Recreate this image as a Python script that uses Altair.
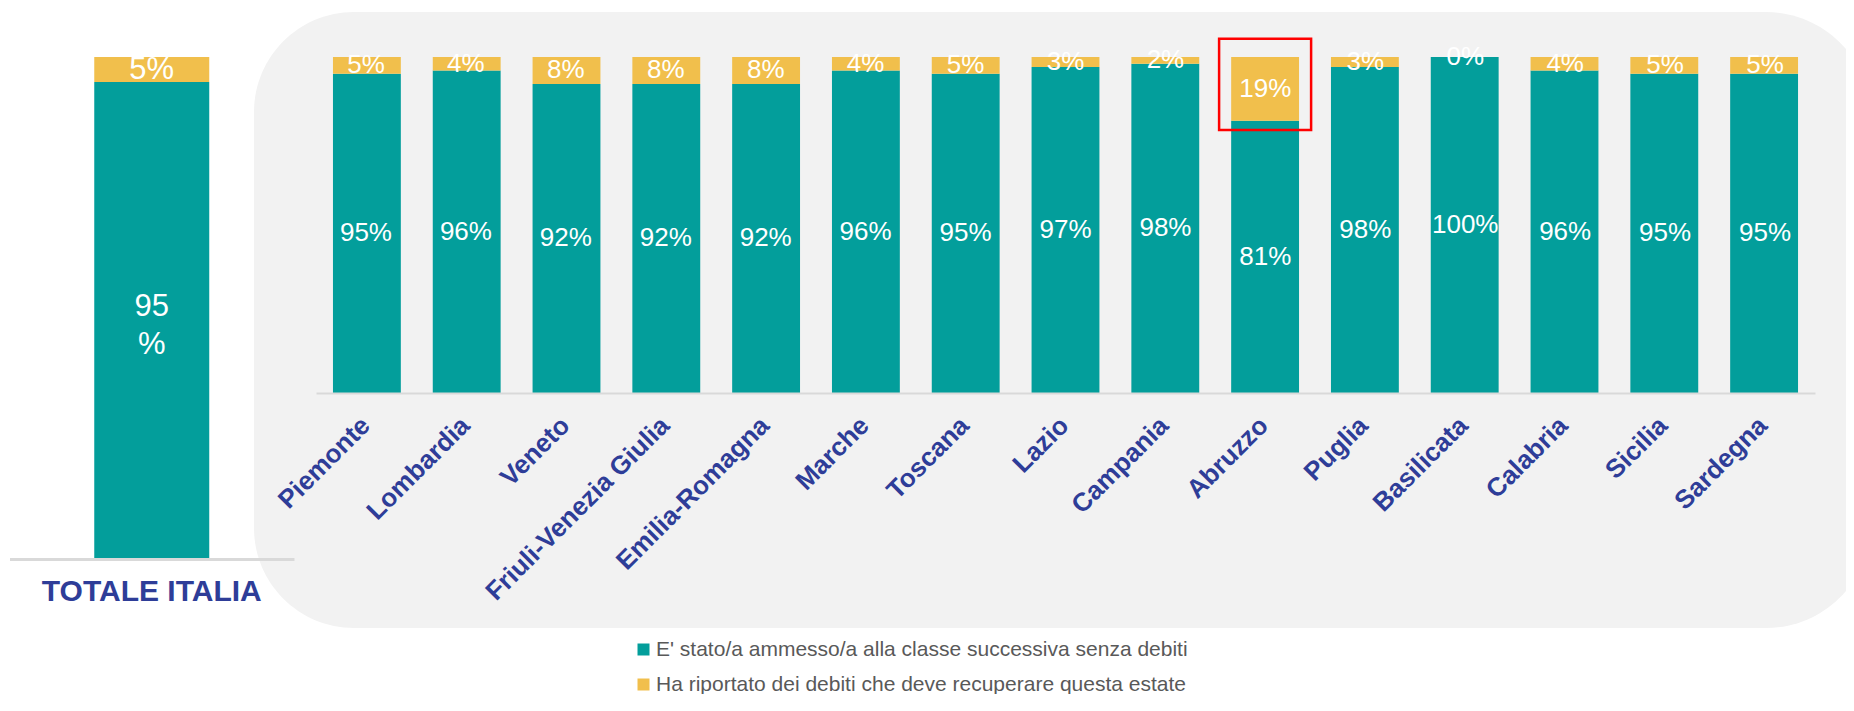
import altair as alt
import pandas as pd

# ---------------- data ----------------
regions = ["Piemonte", "Lombardia", "Veneto", "Friuli-Venezia Giulia", "Emilia-Romagna",
           "Marche", "Toscana", "Lazio", "Campania", "Abruzzo", "Puglia", "Basilicata",
           "Calabria", "Sicilia", "Sardegna"]
promoted = [95, 96, 92, 92, 92, 96, 95, 97, 98, 81, 98, 100, 96, 95, 95]
with_debts = [5, 4, 8, 8, 8, 4, 5, 3, 2, 19, 3, 0, 4, 5, 5]

total_category = "TOTALE ITALIA"
total_values = [95, 5]
total_texts = ["95\n%", "5%"]

series = ["E' stato/a ammesso/a alla classe successiva senza debiti",
          "Ha riportato dei debiti che deve recuperare questa estate"]
colors = ["#039e9b", "#f1bf4c"]

highlight_region = ["Abruzzo"]
highlight_top = [1.054]
highlight_bottom = [0.783]

# ---------------- tables ----------------
rows = []
for r, p, d in zip(regions, promoted, with_debts):
    rows.append({"region": r, "series": series[0], "ord": 0, "value": p})
    rows.append({"region": r, "series": series[1], "ord": 1, "value": d})
df_reg = pd.DataFrame(rows)

df_tot = pd.DataFrame({"region": [total_category] * 2, "series": series, "ord": [0, 1],
                       "value": total_values, "txt": total_texts})
df_hl = pd.DataFrame({"region": highlight_region, "top": highlight_top, "bottom": highlight_bottom})

BLUE = "#2e3d98"
W, H = 1837, 502

xr = alt.Scale(domain=regions, range=[307, 1806], paddingInner=0.32, paddingOuter=0.17)
yr = alt.Scale(domain=[0, 1], range=[336, 0])
xl = alt.Scale(domain=[total_category], range=[0.5, 285])
yl = alt.Scale(domain=[0, 1], range=[502, 0])

legend = alt.Legend(orient="none", legendX=624, legendY=582, direction="vertical", title=None,
                    labelFont="Liberation Sans", labelFontSize=21, labelColor="#595959",
                    symbolType="square", symbolSize=144, symbolStrokeWidth=0, labelOffset=2,
                    rowPadding=13, labelLimit=1000, padding=0)
color = alt.Color("series:N", scale=alt.Scale(domain=series, range=colors), legend=legend)


def segs(ch):
    return (ch.transform_joinaggregate(total="sum(value)", groupby=["region"])
              .transform_window(cum="sum(value)", sort=[alt.SortField("ord")],
                                groupby=["region"], frame=[None, 0])
              .transform_calculate(y1="datum.cum / datum.total",
                                   y0="(datum.cum - datum.value) / datum.total",
                                   ymid="(datum.cum - datum.value / 2) / datum.total"))


bg = alt.Chart(alt.Data(values=[{}])).mark_rect(
    color="#f2f2f2", cornerRadiusTopLeft=100, cornerRadiusBottomLeft=100,
    cornerRadiusTopRight=105, cornerRadiusBottomRight=105
).encode(x=alt.value(245), x2=alt.value(W + 25), y=alt.value(-45), y2=alt.value(571))

# left panel
left_bars = segs(alt.Chart(df_tot)).mark_bar(size=115).encode(
    x=alt.X("region:N", scale=xl, title=None,
            axis=alt.Axis(orient="bottom", labelAngle=0, labelFont="Liberation Sans",
                          labelFontSize=30, labelFontWeight="bold", labelColor=BLUE,
                          domainColor="#d9d9d9", domainWidth=3, ticks=False, labelPadding=17,
                          labelLimit=400, zindex=1, labelAlign="center", labelBaseline="top")),
    y=alt.Y("y1:Q", scale=yl, axis=None), y2="y0:Q", color=color)

left_text_main = segs(alt.Chart(df_tot)).transform_filter("datum.ord == 0").mark_text(
    font="Liberation Sans", fontSize=31, color="white", baseline="middle", align="center",
    lineBreak="\n", lineHeight=38, dy=-14
).encode(x=alt.X("region:N", scale=xl, axis=None), y=alt.Y("ymid:Q", scale=yl, axis=None),
         text="txt:N")

left_text_top = segs(alt.Chart(df_tot)).transform_filter("datum.ord == 1").mark_text(
    font="Liberation Sans", fontSize=31, color="white", baseline="middle", align="center"
).encode(x=alt.X("region:N", scale=xl, axis=None), y=alt.Y("ymid:Q", scale=yl, axis=None),
         text="txt:N")

# right panel
right_bars = segs(alt.Chart(df_reg)).mark_bar().encode(
    x=alt.X("region:N", scale=xr, sort=regions, title=None,
            axis=alt.Axis(orient="bottom", offset=-166, labelAngle=-45, labelFont="Liberation Sans",
                          labelFontSize=26, labelFontWeight="bold", labelColor=BLUE,
                          domainColor="#d9d9d9", domainWidth=2, ticks=False, labelPadding=28,
                          labelOffset=-1, labelLimit=400, zindex=1, labelAlign="right",
                          labelBaseline="middle", labelOverlap=False)),
    y=alt.Y("y1:Q", scale=yr, axis=None), y2="y0:Q", color=color)

right_text = segs(alt.Chart(df_reg)).transform_calculate(
    lab="datum.value + '%'"
).mark_text(font="Liberation Sans", fontSize=26, color="white", baseline="middle",
            align="center").encode(
    x=alt.X("region:N", scale=xr, sort=regions, axis=None),
    y=alt.Y("ymid:Q", scale=yr, axis=None), text="lab:N")

hl = alt.Chart(df_hl).mark_bar(size=92, fillOpacity=0, stroke="#ff0000", strokeWidth=2.5).encode(
    x=alt.X("region:N", scale=xr, axis=None),
    y=alt.Y("top:Q", scale=yr, axis=None), y2="bottom:Q")

chart = alt.layer(bg, left_bars, left_text_main, left_text_top, right_bars, right_text, hl
).resolve_scale(
    x="independent", y="independent"
).properties(
    width=W, height=H,
    autosize=alt.AutoSizeParams(type="none"),
    padding={"left": 1, "top": 49, "right": 0, "bottom": 135},
).configure_view(stroke=None)

chart.save("out.html", embed_options={"renderer": "svg", "actions": False})
